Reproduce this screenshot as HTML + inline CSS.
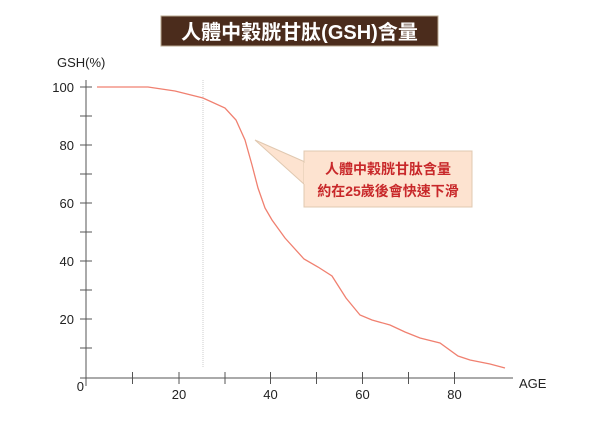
<!DOCTYPE html>
<html><head><meta charset="utf-8"><style>
body{margin:0;background:#fff;width:600px;height:424px;overflow:hidden}
svg text{font-family:"Liberation Sans","Noto Sans CJK TC",sans-serif}
</style></head><body>
<svg width="600" height="424" viewBox="0 0 600 424">
<rect x="161" y="16" width="277" height="30" fill="#4b2c1c" stroke="#b8a890" stroke-width="1"/>
<text x="299.5" y="39" text-anchor="middle" font-size="20" font-weight="bold" fill="#fff">人體中穀胱甘肽(GSH)含量</text>
<text x="57" y="67" font-size="13" fill="#222">GSH(%)</text>
<g stroke="#555" stroke-width="1">
<line x1="86" y1="80" x2="86" y2="386"/>
<line x1="80" y1="378" x2="513" y2="378"/>
<line x1="80" y1="87" x2="92" y2="87"/><line x1="80" y1="116" x2="92" y2="116"/>
<line x1="80" y1="145" x2="92" y2="145"/><line x1="80" y1="174" x2="92" y2="174"/>
<line x1="80" y1="203" x2="92" y2="203"/><line x1="80" y1="232" x2="92" y2="232"/>
<line x1="80" y1="261" x2="92" y2="261"/><line x1="80" y1="290" x2="92" y2="290"/>
<line x1="80" y1="319" x2="92" y2="319"/><line x1="80" y1="348" x2="92" y2="348"/>
<line x1="132.5" y1="372" x2="132.5" y2="384"/><line x1="179" y1="372" x2="179" y2="384"/>
<line x1="225" y1="372" x2="225" y2="384"/><line x1="270.5" y1="372" x2="270.5" y2="384"/>
<line x1="316.5" y1="372" x2="316.5" y2="384"/><line x1="362.5" y1="372" x2="362.5" y2="384"/>
<line x1="408.5" y1="372" x2="408.5" y2="384"/><line x1="454.5" y1="372" x2="454.5" y2="384"/>
</g>
<line x1="203" y1="80" x2="203" y2="367" stroke="#ccc" stroke-width="1" stroke-dasharray="1,1"/>
<g font-size="13" fill="#222" text-anchor="end">
<text x="74" y="92">100</text><text x="74" y="150">80</text><text x="74" y="208">60</text>
<text x="74" y="266">40</text><text x="74" y="324">20</text><text x="84" y="391">0</text>
</g>
<g font-size="13" fill="#222" text-anchor="middle">
<text x="179" y="399">20</text><text x="270.5" y="399">40</text><text x="362.5" y="399">60</text><text x="454.5" y="399">80</text>
</g>
<text x="519" y="388" font-size="13" fill="#222">AGE</text>
<polyline fill="none" stroke="#f08070" stroke-width="1.3" points="97,87 148,87 175,91 203,98 225,108 236,120 245,140 252,165 258,188 265,208 272,220 285,238 304,259 318,267 332,276 346,298 360,315 372,320 390,325 405,332 420,338 440,343 458,356 470,360 490,364 505,368"/>
<polygon points="255,140 305,162 305,185" fill="#fde3d0" stroke="#e0c8b0"/>
<rect x="304" y="151" width="168" height="56" fill="#fde3d0" stroke="#e0c8b0"/>
<line x1="305" y1="163" x2="305" y2="184" stroke="#fde3d0" stroke-width="2"/>
<g font-size="14" font-weight="bold" fill="#c8282a" text-anchor="middle">
<text x="388" y="174">人體中穀胱甘肽含量</text>
<text x="388" y="196">約在25歲後會快速下滑</text>
</g>
</svg>
</body></html>
